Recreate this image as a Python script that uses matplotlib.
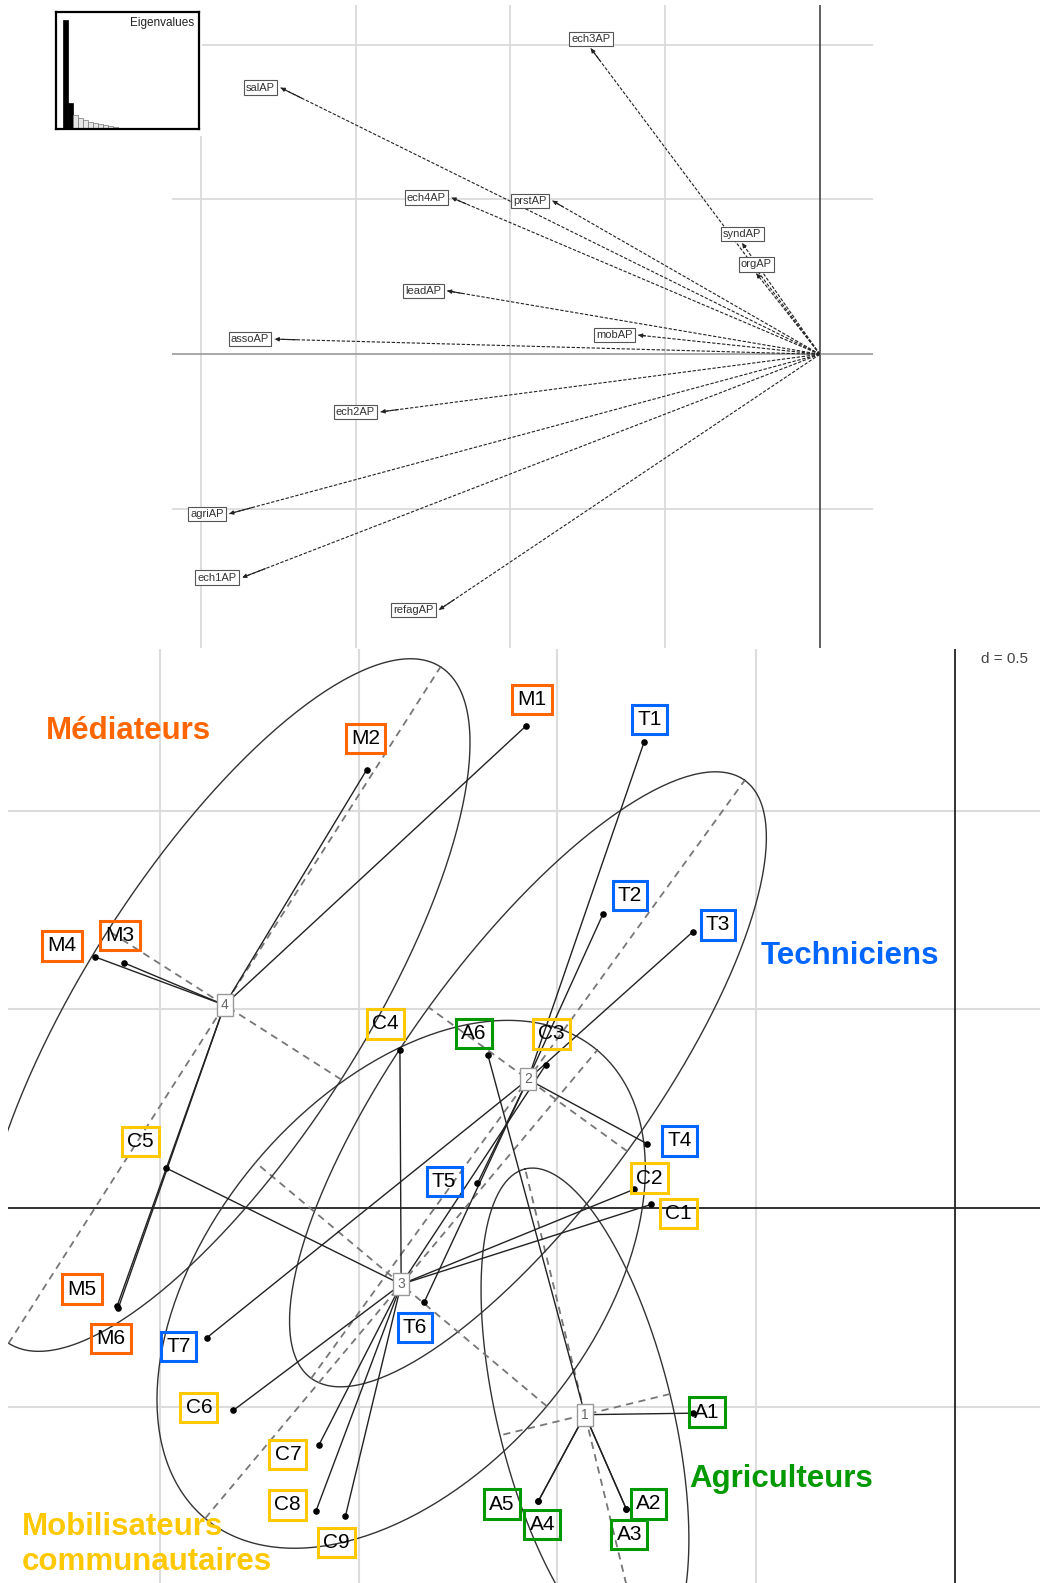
import numpy as np
import matplotlib.pyplot as plt
from matplotlib.patches import Rectangle

plt.rcParams['font.family'] = ['Liberation Sans', 'DejaVu Sans']

# ---- top panel: variables (arrows from the origin)
var_names = ['ech3AP', 'salAP', 'ech4AP', 'prstAP', 'syndAP', 'orgAP', 'leadAP',
             'mobAP', 'assoAP', 'ech2AP', 'agriAP', 'ech1AP', 'refagAP']
var_x = [-0.740, -1.742, -1.190, -0.864, -0.251, -0.205, -1.204,
         -0.587, -1.761, -1.419, -1.908, -1.866, -1.230]
var_y = [0.988, 0.861, 0.506, 0.496, 0.359, 0.261, 0.205,
         0.062, 0.049, -0.186, -0.515, -0.721, -0.825]

eigenvalues = [108, 26, 14, 11, 9, 7, 6, 5, 4, 3, 2, 1.5, 1]

# ---- bottom panel: individuals and their class
ind_names = ['A1', 'A2', 'A3', 'A4', 'A5', 'A6',
             'T1', 'T2', 'T3', 'T4', 'T5', 'T6', 'T7',
             'C1', 'C2', 'C3', 'C4', 'C5', 'C6', 'C7', 'C8', 'C9',
             'M1', 'M2', 'M3', 'M4', 'M5', 'M6']
ind_x = [-0.660, -0.827, -0.827, -1.048, -1.048, -1.175,
         -0.782, -0.886, -0.660, -0.774, -1.201, -1.335, -1.881,
         -0.764, -0.807, -1.030, -1.396, -1.985, -1.815, -1.599, -1.607, -1.533,
         -1.079, -1.480, -2.089, -2.162, -2.107, -2.104]
ind_y = [-0.515, -0.756, -0.756, -0.736, -0.736, 0.386,
         1.173, 0.739, 0.695, 0.162, 0.063, -0.236, -0.325,
         0.010, 0.048, 0.360, 0.398, 0.102, -0.508, -0.594, -0.761, -0.774,
         1.213, 1.102, 0.617, 0.632, -0.246, -0.251]
ind_group = [1] * 6 + [2] * 7 + [3] * 9 + [4] * 6

group_title = {1: 'Agriculteurs', 2: 'Techniciens',
               3: 'Mobilisateurs\ncommunautaires', 4: 'Médiateurs'}
group_color = {1: '#009900', 2: '#0066FF', 3: '#FFC800', 4: '#FF6600'}

# label offsets (pixels, right / down) of the hand-placed name boxes
label_offset = {
    'A1': (14, -1), 'A2': (22, -5), 'A3': (3, 25), 'A4': (4, 23), 'A5': (-36, 3), 'A6': (-14, -21),
    'T1': (5, -22), 'T2': (27, -19), 'T3': (25, -7), 'T4': (32, -3), 'T5': (-33, -2),
    'T6': (-9, 25), 'T7': (-28, 9),
    'C1': (27, 9), 'C2': (15, -11), 'C3': (6, -31), 'C4': (-14, -26), 'C5': (-25, -26),
    'C6': (-34, -3), 'C7': (-31, 10), 'C8': (-28, -6), 'C9': (-9, 26),
    'M1': (6, -26), 'M2': (-1, -31), 'M3': (-4, -27), 'M4': (-33, -11), 'M5': (-35, -17),
    'M6': (-7, 30),
}

W, H = 1030, 1568


def box(l, t, r, b):
    return [l / W, 1 - b / H, (r - l) / W, (b - t) / H]


fig = plt.figure(figsize=(10.4, 15.83), dpi=100)

# ================= top panel =================
ax1 = fig.add_axes(box(170, 5, 865, 642))
ax1.set_xlim(-2.094, 0.173)
ax1.set_ylim(-0.949, 1.128)
ax1.axis('off')
for g in [-2.0, -1.5, -1.0, -0.5]:
    ax1.axvline(g, color='#d8d8d8', lw=1.2, zorder=0)
for g in [-0.5, 0.5, 1.0]:
    ax1.axhline(g, color='#d8d8d8', lw=1.2, zorder=0)
ax1.axvline(0, color='#444444', lw=1.2, zorder=1)
ax1.axhline(0, color='#999999', lw=1.2, zorder=1)

for name, x, y in zip(var_names, var_x, var_y):
    ax1.plot([0, x], [0, y], color='#222222', lw=0.8, ls=(0, (3, 1.5)), zorder=2)
    ax1.annotate('', xy=(x, y), xytext=(x * 0.96, y * 0.96),
                 arrowprops=dict(arrowstyle='-|>', color='#222222', lw=0.8,
                                 mutation_scale=6, shrinkA=0, shrinkB=0), zorder=3)
    if abs(y) > abs(x):
        kw = dict(xytext=(0, 3), ha='center', va='bottom')
    else:
        kw = dict(xytext=(-4 if x < 0 else 4, 0), ha='right' if x < 0 else 'left', va='center')
    ax1.annotate(name, (x, y), textcoords='offset points', fontsize=8, color='#333333',
                 bbox=dict(boxstyle='square,pad=0.2', fc='white', ec='#555555', lw=0.8),
                 zorder=4, **kw)

# eigenvalue inset
fig.patches.append(Rectangle((45 / W, 1 - 135 / H), 155 / W, 130 / H,
                             transform=fig.transFigure, fc='white', ec='none', zorder=5))
axe = fig.add_axes(box(55, 12, 197, 128), zorder=6)
n_eig = len(eigenvalues)
bar_fc = ['black', 'black'] + ['#e6e6e6'] * (n_eig - 2)
bar_ec = ['black', 'black'] + ['#777777'] * (n_eig - 2)
axe.bar(range(n_eig), eigenvalues, width=1.0, color=bar_fc, edgecolor=bar_ec, lw=0.5)
axe.set_xlim(-1.9, 26.5)
axe.set_ylim(0, 116)
axe.set_xticks([])
axe.set_yticks([])
for s in axe.spines.values():
    s.set_linewidth(1.6)
axe.text(0.97, 0.96, 'Eigenvalues', transform=axe.transAxes, ha='right', va='top',
         fontsize=8.5, color='#222222')

# ================= bottom panel =================
ax2 = fig.add_axes(box(8, 643, 1030, 1568))
ax2.set_xlim(-2.381, 0.213)
ax2.set_ylim(-0.942, 1.406)
ax2.axis('off')
for g in [-2.0, -1.5, -1.0, -0.5]:
    ax2.axvline(g, color='#dcdcdc', lw=1.5, zorder=0)
for g in [-0.5, 0.5, 1.0]:
    ax2.axhline(g, color='#dcdcdc', lw=1.5, zorder=0)
ax2.axvline(0, color='#222222', lw=1.3, zorder=1)
ax2.axhline(0, color='#222222', lw=1.3, zorder=1)

px = np.array(ind_x)
py = np.array(ind_y)
grp = np.array(ind_group)
t = np.linspace(0, 2 * np.pi, 300)
centers = {}
for g in sorted(set(ind_group)):
    xs, ys = px[grp == g], py[grp == g]
    mx, my = xs.mean(), ys.mean()
    centers[g] = (mx, my)
    vals, vecs = np.linalg.eigh(np.cov(xs, ys, bias=True))
    a, b = 1.5 * np.sqrt(vals[1]), 1.5 * np.sqrt(vals[0])
    u, v = vecs[:, 1], vecs[:, 0]
    ex = mx + a * np.cos(t) * u[0] + b * np.sin(t) * v[0]
    ey = my + a * np.cos(t) * u[1] + b * np.sin(t) * v[1]
    ax2.plot(ex, ey, color='#333333', lw=1.0, zorder=2)
    for r, w in [(a, u), (b, v)]:
        ax2.plot([mx - r * w[0], mx + r * w[0]], [my - r * w[1], my + r * w[1]],
                 color='#777777', lw=1.3, ls=(0, (4, 3)), zorder=2)
    for x, y in zip(xs, ys):
        ax2.plot([mx, x], [my, y], color='#222222', lw=1.0, zorder=3)

ax2.scatter(px, py, s=14, color='black', zorder=4)

for g, (mx, my) in centers.items():
    ax2.text(mx, my, str(g), ha='center', va='center', fontsize=10, color='#666666',
             bbox=dict(boxstyle='square,pad=0.3', fc='white', ec='#999999', lw=1.0), zorder=5)

k = (1040 / 1030) * 0.72
for name, x, y, g in zip(ind_names, ind_x, ind_y, ind_group):
    dx, dy = label_offset[name]
    ax2.annotate(name, (x, y), xytext=(dx * k, -dy * k), textcoords='offset points',
                 ha='center', va='center', fontsize=15, color='black',
                 bbox=dict(boxstyle='square,pad=0.25', fc='none', ec=group_color[g], lw=2.2),
                 zorder=6)

ax2.text(0.966, 0.989, 'd = 0.5', transform=ax2.transAxes, ha='center', va='center',
         fontsize=11, color='#444444',
         bbox=dict(boxstyle='square,pad=0.2', fc='white', ec='none'), zorder=7)

# group names
fig.text(127 / W, 1 - 724 / H, group_title[4], ha='center', va='center',
         fontsize=22.5, fontweight='bold', color=group_color[4])
fig.text(842 / W, 1 - 947 / H, group_title[2], ha='center', va='center',
         fontsize=22.5, fontweight='bold', color=group_color[2])
fig.text(774 / W, 1 - 1465 / H, group_title[1], ha='center', va='center',
         fontsize=22.5, fontweight='bold', color=group_color[1])
fig.text(22 / W, 1 - 1530 / H, group_title[3], ha='left', va='center', linespacing=1.2,
         fontsize=22.5, fontweight='bold', color=group_color[3])

fig.savefig('out.png', dpi=100)
